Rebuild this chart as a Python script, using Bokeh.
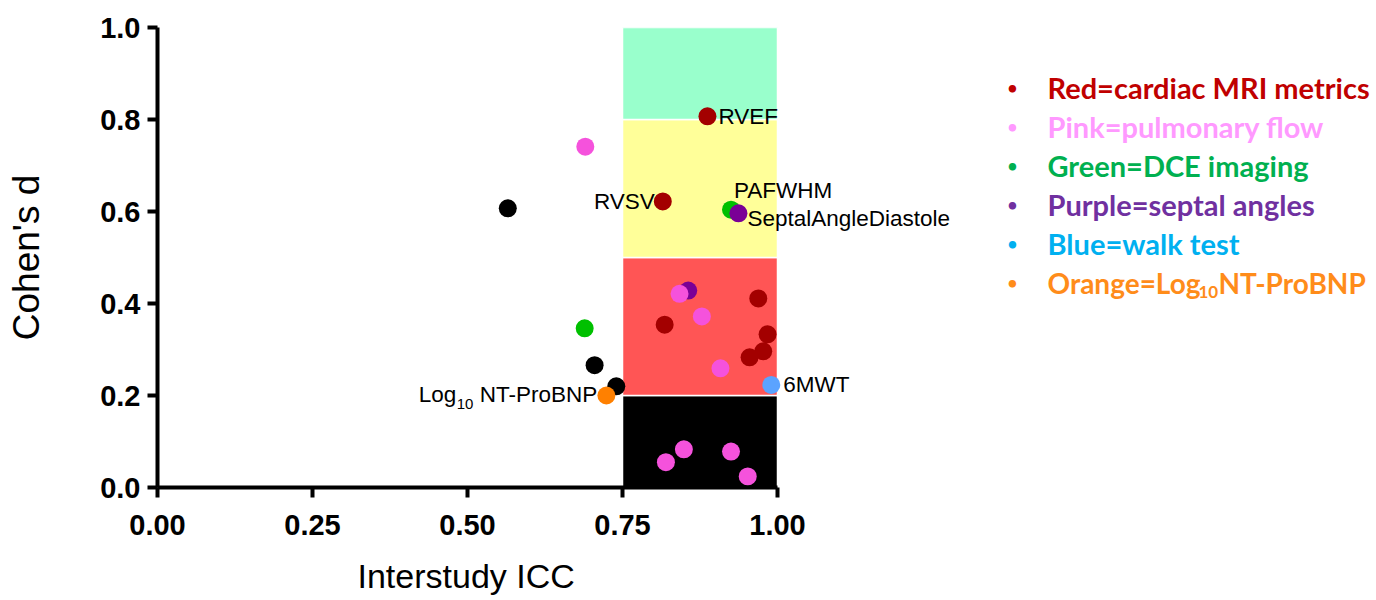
from bokeh.plotting import figure
from bokeh.models import Label, FixedTicker, Range1d, Title
from bokeh.embed import file_html
from bokeh.resources import INLINE

# ---------------- data ----------------
red_x = [0.887, 0.815, 0.818, 0.969, 0.984, 0.977, 0.955]
red_y = [0.807, 0.622, 0.354, 0.411, 0.333, 0.296, 0.283]
pink_x = [0.690, 0.842, 0.878, 0.908, 0.820, 0.849, 0.925, 0.952]
pink_y = [0.741, 0.421, 0.372, 0.259, 0.055, 0.083, 0.078, 0.024]
green_x = [0.925, 0.689]
green_y = [0.604, 0.346]
purple_x = [0.856, 0.937]
purple_y = [0.428, 0.596]
black_x = [0.565, 0.705, 0.740, 0.967]
black_y = [0.607, 0.266, 0.220, 0.006]
orange_x = [0.724]
orange_y = [0.200]
blue_x = [0.990]
blue_y = [0.223]

band_x0 = 0.75
band_x1 = 1.0
band_bottom = [0.0, 0.2, 0.5, 0.8]
band_top = [0.2, 0.5, 0.8, 1.0]
band_colors = ["#000000", "#FF5555", "#FFFF99", "#99FFCC"]

x_ticks = [0.0, 0.25, 0.5, 0.75, 1.0]
x_tick_labels = ["0.00", "0.25", "0.50", "0.75", "1.00"]
y_ticks = [0.0, 0.2, 0.4, 0.6, 0.8, 1.0]
y_tick_labels = ["0.0", "0.2", "0.4", "0.6", "0.8", "1.0"]

legend_texts = ["Red=cardiac MRI metrics", "Pink=pulmonary flow", "Green=DCE imaging",
                "Purple=septal angles", "Blue=walk test", "Orange=Log"]
legend_colors = ["#C00000", "#FF99FF", "#00B050", "#7030A0", "#00B0F0", "#FF8C1A"]

# ---------------- figure ----------------
LEFT, TOP, BOTTOM = 157, 27, 113
UX, UY = 620, 460               # pixels per data unit
FW = 1376 - LEFT                # frame reaches right edge (room for notes / legend)
p = figure(frame_width=FW, frame_height=UY,
           x_range=Range1d(0, FW / UX), y_range=Range1d(0, 1),
           min_border_left=LEFT, min_border_right=0,
           min_border_top=TOP, min_border_bottom=BOTTOM,
           output_backend="svg", toolbar_location=None,
           background_fill_color="white", border_fill_color="white")
p.outline_line_color = None
p.grid.visible = False

# bands
p.quad(left=[band_x0] * len(band_bottom), right=[band_x1] * len(band_bottom),
       bottom=band_bottom, top=band_top, fill_color=band_colors,
       line_color="white", line_width=1.5)

S = 18
p.scatter(black_x, black_y, size=S, color="#000000", line_color=None)
p.scatter(green_x, green_y, size=S, color="#00C000", line_color=None)
p.scatter(purple_x, purple_y, size=S, color="#7A0096", line_color=None)
p.scatter(pink_x, pink_y, size=S, color="#F552DC", line_color=None)
p.scatter(red_x, red_y, size=S, color="#A30000", line_color=None)
p.scatter(orange_x, orange_y, size=S, color="#FF8000", line_color=None)
p.scatter(blue_x, blue_y, size=S, color="#5BA3FF", line_color=None)

# axes
for ax in (p.xaxis[0], p.yaxis[0]):
    ax.axis_line_width = 4
    ax.axis_line_color = "black"
    ax.major_tick_line_width = 4
    ax.major_tick_line_color = "black"
    ax.major_tick_out = 10
    ax.major_tick_in = 0
    ax.minor_tick_line_color = None
    ax.major_label_text_font = "Liberation Sans"
    ax.major_label_text_font_style = "bold"
    ax.major_label_text_font_size = "29px"
    ax.major_label_text_color = "black"
    ax.axis_label_text_font = "Liberation Sans"
    ax.axis_label_text_font_style = "normal"
    ax.axis_label_text_color = "black"

p.xaxis.bounds = (0, 1)
p.yaxis.bounds = (0, 1)
p.xaxis.ticker = FixedTicker(ticks=x_ticks)
p.xaxis.major_label_overrides = dict(zip(x_ticks, x_tick_labels))
p.yaxis.ticker = FixedTicker(ticks=y_ticks)
p.yaxis.major_label_overrides = dict(zip(y_ticks, y_tick_labels))
p.yaxis.axis_label = "Cohen's d"
p.yaxis.axis_label_text_font_size = "37px"
p.xaxis.major_label_standoff = 17
p.yaxis.major_label_standoff = 7
p.yaxis.axis_label_standoff = 50

# x-axis title, centred under the 0..1 part of the axis
p.add_layout(Title(text="Interstudy ICC", align="left", offset=200, standoff=34,
                   text_font="Liberation Sans", text_font_size="34px",
                   text_font_style="normal", text_color="black"), "below")

# point annotations
AF = "Liberation Sans"
AS = "22.5px"

def ann(x, y, text, dx, dy=0, align="left", size=AS):
    p.add_layout(Label(x=x, y=y, text=text, x_offset=dx, y_offset=dy,
                       text_font=AF, text_font_size=size, text_color="black",
                       text_align=align, text_baseline="middle"))

ann(red_x[0], red_y[0], "RVEF", 11)
ann(red_x[1], red_y[1], "RVSV", -8, 0, "right")
ann(green_x[0], green_y[0], "PAFWHM", 3, 19)
ann(purple_x[1], purple_y[1], "SeptalAngleDiastole", 9, -5)
ann(blue_x[0], blue_y[0], "6MWT", 12)
ann(orange_x[0], orange_y[0], "NT-ProBNP", -9, 1, "right")
ann(orange_x[0], orange_y[0], "10", -133, -8, "right", "15px")
ann(orange_x[0], orange_y[0], "Log", -150, 1, "right")

# legend (right part of the frame; positions given in picture pixels)
def fx(px):
    return (px - LEFT) / UX

def fy(py):
    return (TOP + UY - py) / UY

LF = "Lato"
LS = "29px"
rows = [87, 126, 165, 204, 243, 282]
for i, (txt, col, ry) in enumerate(zip(legend_texts, legend_colors, rows)):
    size = LS if i < len(rows) - 1 else "28px"
    p.add_layout(Label(x=fx(1012), y=fy(ry), text="\u2022", text_font=LF,
                       text_font_size="17px", text_font_style="bold", text_color=col,
                       text_align="center", text_baseline="middle"))
    p.add_layout(Label(x=fx(1047), y=fy(ry), text=txt, text_font=LF,
                       text_font_size=size, text_font_style="bold", text_color=col,
                       text_align="left", text_baseline="middle"))
# subscript part of the last legend entry
p.add_layout(Label(x=fx(1198), y=fy(rows[-1] + 9), text="10", text_font=LF,
                   text_font_size="17px", text_font_style="bold", text_color=legend_colors[-1],
                   text_align="left", text_baseline="middle"))
p.add_layout(Label(x=fx(1218), y=fy(rows[-1]), text="NT-ProBNP", text_font=LF,
                   text_font_size="28px", text_font_style="bold", text_color=legend_colors[-1],
                   text_align="left", text_baseline="middle"))

open("out.html", "w").write(file_html(p, INLINE))
